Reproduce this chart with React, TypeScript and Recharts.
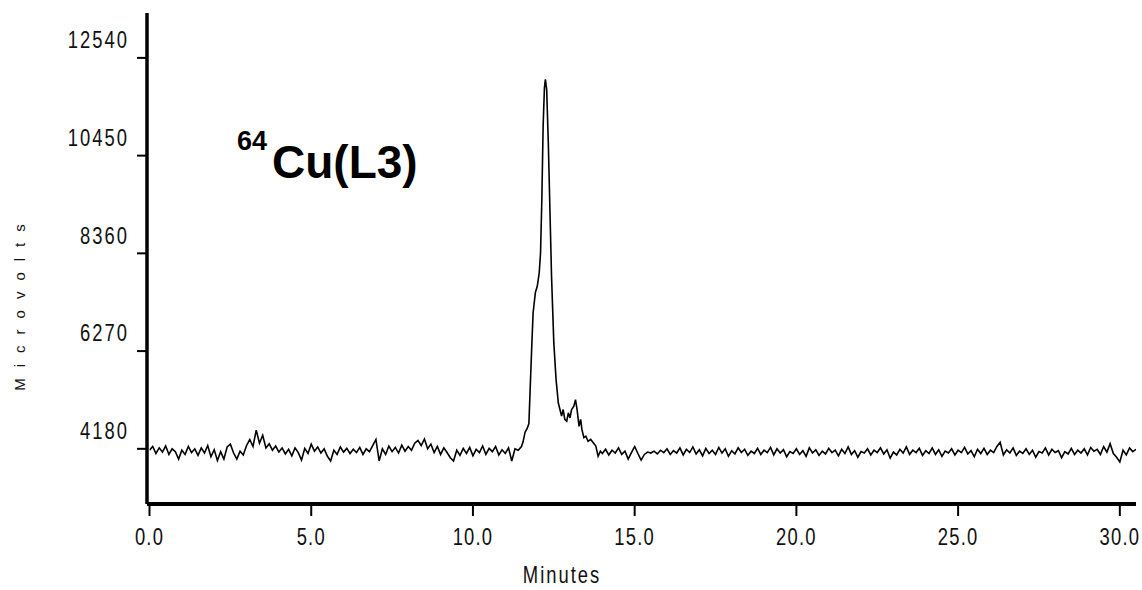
import React from "react";
import { LineChart, Line, XAxis, YAxis } from "recharts";

// Baseline before the main peak: t = 0.0 .. 11.4 min, step 0.1
const PRE_START = 0;
const STEP = 0.1;
const preValues = [
  4150, 4230, 4080, 4200, 4110, 4240, 4060, 4180, 4120, 3960,
  4150, 4060, 4230, 4100, 4180, 4040, 4200, 4090, 4250, 4010,
  4160, 3930, 4120, 3960, 4220, 4280, 4090, 3960, 4130, 4050,
  4250, 4380, 4230, 4580, 4300, 4470, 4200, 4290, 4150, 4240,
  4110, 4200, 4070, 4170, 4030, 4200, 4100, 3940, 4190, 4080,
  4280, 4130, 4220, 4090, 4180, 4020, 3920, 4150, 4060, 4220,
  4110, 4190, 4080, 4170, 4100, 4210, 4060, 4180, 4120, 4250,
  4380, 3920, 4180, 4060, 4240, 4120, 4210, 4090, 4260, 4130,
  4230, 4150, 4300, 4360, 4250, 4390, 4180, 4280, 4100, 4230,
  4060, 4200, 4100, 3990, 3920, 4150, 4040, 4190, 4080, 4210,
  4030, 4170, 4100, 4240, 4060, 4190, 4120, 4230, 4050, 4160,
  4080, 4200, 3920, 4180, 4150,
];

// Main peak region (minutes / microvolts)
const peakTimes = [
  11.5, 11.55, 11.61, 11.68, 11.73, 11.78, 11.82, 11.86, 11.93, 11.99,
  12.05, 12.09, 12.13, 12.17, 12.21, 12.24, 12.28, 12.33, 12.38, 12.43,
  12.5, 12.57, 12.64, 12.69, 12.74, 12.79, 12.84, 12.9, 12.95, 13.0,
  13.05, 13.12, 13.17, 13.22, 13.28, 13.33, 13.37, 13.43, 13.49, 13.56,
  13.64, 13.72, 13.8, 13.87, 13.94,
];
const peakValues = [
  4230, 4330, 4530, 4620, 4720, 5660, 6400, 7090, 7520, 7660,
  7950, 8370, 9510, 11080, 11900, 12080, 11860, 10730, 9300, 7870,
  6450, 5660, 5160, 5020, 4880, 5020, 4810, 4770, 4950, 4840,
  5020, 5090, 5230, 5020, 4660, 4810, 4590, 4420, 4450, 4340,
  4380, 4310, 4240, 4020, 4130,
];

// Baseline after the peak: t = 14.0 .. 30.5 min, step 0.1
const POST_START = 14.0;
const postValues = [
  4080, 4170, 4050, 4150, 4090, 4200, 4060, 4130, 3960, 4100,
  4230, 4080, 3940, 4060, 4110, 4090, 4130, 4070, 4150, 4100,
  4180, 4060, 4140, 4090, 4200, 4050, 4170, 4100, 4220, 4070,
  4160, 4030, 4190, 4080, 4150, 4060, 4210, 4090, 4180, 4020,
  4140, 4070, 4200, 4100, 4170, 4040, 4130, 4080, 4190, 4060,
  4150, 4100, 4210, 4050, 4180, 4090, 4160, 4010, 4120, 4080,
  4180, 4060, 4140, 4020, 4200, 4090, 4160, 4040, 4130, 4070,
  4190, 4100, 4150, 4030, 4170, 4080, 4220, 4060, 4140, 4000,
  4120, 4090, 4180, 4050, 4150, 4100, 4200, 4070, 4160, 3980,
  4110, 4050, 4170, 4090, 4220, 4060, 4150, 4100, 4190, 4040,
  4140, 4080, 4200, 4060, 4160, 4020, 4130, 4090, 4180, 4050,
  4150, 4100, 4210, 4070, 4140, 4010, 4170, 4080, 4190, 4060,
  4150, 4100, 4230, 4320, 4050, 4160, 4090, 4200, 4040, 4130,
  4080, 4180, 4060, 4150, 4000, 4120, 4090, 4200, 4050, 4170,
  4100, 4140, 3990, 4120, 4070, 4190, 4060, 4150, 4090, 4180,
  4050, 4210, 4130, 4170, 4060, 4230, 4110, 4290, 4080, 4000,
  3900, 4150, 4050, 4200, 4120, 4170,
];

const xTicks = [0, 5, 10, 15, 20, 25, 30];
const yTicks = [4180, 6270, 8360, 10450, 12540];
const xDomain = [0, 30.5];
const yDomain = [3000, 13500];

const data = [
  ...preValues.map((v, i) => ({ t: +(PRE_START + i * STEP).toFixed(2), v })),
  ...peakTimes.map((t, i) => ({ t, v: peakValues[i] })),
  ...postValues.map((v, i) => ({ t: +(POST_START + i * STEP).toFixed(2), v })),
];

const SANS = "'Liberation Sans', Arial, sans-serif";
const SQUEEZE = 0.8;

const YTick = (props: any) => {
  const { x, y, payload } = props;
  return (
    <text
      transform={`translate(${x},${y - 18}) scale(${SQUEEZE},1)`}
      x={0}
      y={0}
      textAnchor="end"
      dominantBaseline="central"
      fontFamily={SANS}
      fontSize={23}
      letterSpacing={2.5}
      fill="#111"
    >
      {payload.value}
    </text>
  );
};

const XTick = (props: any) => {
  const { x, y, payload } = props;
  return (
    <text
      transform={`translate(${x},${y + 21}) scale(${SQUEEZE},1)`}
      x={0}
      y={0}
      textAnchor="middle"
      dominantBaseline="central"
      fontFamily={SANS}
      fontSize={23}
      letterSpacing={1.5}
      fill="#111"
    >
      {Number(payload.value).toFixed(1)}
    </text>
  );
};

export default function App() {
  return (
    <div style={{ position: "absolute", left: 0, top: 0, width: 1142, height: 590, background: "#fff" }}>
      <LineChart
        width={1142}
        height={590}
        data={data}
        margin={{ top: 13, right: 6, bottom: 0, left: 0 }}
      >
        <XAxis
          dataKey="t"
          type="number"
          domain={xDomain}
          ticks={xTicks}
          padding={{ left: 2.5, right: 0 }}
          height={86}
          tickSize={12}
          tickMargin={0}
          axisLine={{ stroke: "#000", strokeWidth: 4 }}
          tickLine={{ stroke: "#000", strokeWidth: 2 }}
          tick={<XTick />}
          allowDataOverflow
        />
        <YAxis
          type="number"
          domain={yDomain}
          ticks={yTicks}
          width={147}
          tickSize={10}
          tickMargin={8}
          axisLine={{ stroke: "#000", strokeWidth: 3.5 }}
          tickLine={{ stroke: "#000", strokeWidth: 2 }}
          tick={<YTick />}
          allowDataOverflow
        />
        <Line
          type="linear"
          dataKey="v"
          stroke="#000"
          strokeWidth={1.6}
          dot={false}
          isAnimationActive={false}
        />
      </LineChart>
      <svg
        width={1142}
        height={590}
        style={{ position: "absolute", left: 0, top: 0, pointerEvents: "none" }}
      >
        <text
          x={19}
          y={302}
          transform="rotate(-90 19 302)"
          textAnchor="middle"
          dominantBaseline="central"
          fontFamily={SANS}
          fontSize={15}
          letterSpacing={11}
          fill="#111"
        >
          Microvolts
        </text>
        <text
          transform={`translate(562,575) scale(${SQUEEZE},1)`}
          x={0}
          y={0}
          textAnchor="middle"
          dominantBaseline="central"
          fontFamily={SANS}
          fontSize={23}
          letterSpacing={2.5}
          fill="#111"
        >
          Minutes
        </text>
        <text x={237} y={150} fontFamily={SANS} fontWeight="bold" fontSize={27} fill="#000">
          64
        </text>
        <text x={272} y={178} fontFamily={SANS} fontWeight="bold" fontSize={46} fill="#000">
          Cu(L3)
        </text>
      </svg>
    </div>
  );
}
